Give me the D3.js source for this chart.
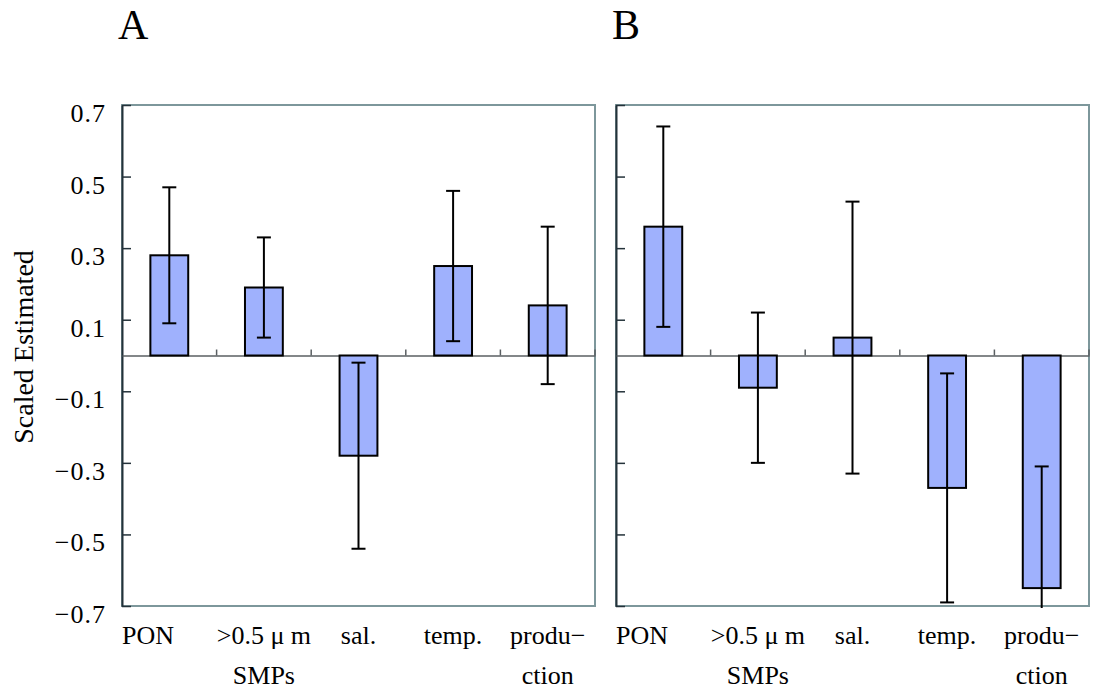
<!DOCTYPE html>
<html>
<head>
<meta charset="utf-8">
<script src="https://cdn.jsdelivr.net/npm/d3@7"></script>
<style>
  body { margin: 0; background: #fff; }
  svg { font-family: "Liberation Serif", "DejaVu Serif", serif; }
</style>
</head>
<body>
<div class="chart"></div>
<script>
// data
var categories = [["PON"], [">0.5 μ m", "SMPs"], ["sal."], ["temp."], ["produ−", "ction"]]
var panels = ["A", "B"]
var valuesA = [0.28, 0.19, -0.28, 0.25, 0.14]
var lowA = [0.09, 0.05, -0.54, 0.04, -0.08]
var highA = [0.47, 0.33, -0.02, 0.46, 0.36]
var valuesB = [0.36, -0.09, 0.05, -0.37, -0.65]
var lowB = [0.08, -0.30, -0.33, -0.69, -0.99]
var highB = [0.64, 0.12, 0.43, -0.05, -0.31]
var yTicks = [0.7, 0.5, 0.3, 0.1, -0.1, -0.3, -0.5, -0.7]
var yLabel = "Scaled Estimated"

let svg = d3.select('div.chart').append('svg')
  .attr("width", 1098).attr("height", 695)

var top_ = 105, bottom = 606
var panelX = [[122, 595], [616, 1089]]
var series = [
  {v: valuesA, lo: lowA, hi: highA},
  {v: valuesB, lo: lowB, hi: highB}
]

let y = d3.scaleLinear().domain([-0.7, 0.7]).range([bottom, top_])

series.forEach((s, p) => {
  let x = d3.scaleBand()
    .domain(d3.range(categories.length))
    .range(panelX[p])
    .paddingInner(0).paddingOuter(0)
  let g = svg.append('g')

  //frame
  g.append('rect')
    .attr('x', panelX[p][0]).attr('y', top_)
    .attr('width', panelX[p][1] - panelX[p][0])
    .attr('height', bottom - top_)
    .attr('fill', 'none')
    .attr('stroke', '#7d979b')
    .attr('stroke-width', 2)

  //y axis (ticks inward)
  let yAxis = g.append('g')
    .attr('transform', 'translate(' + panelX[p][0] + ',0)')
    .call(d3.axisRight(y).tickValues(yTicks).tickSize(9).tickSizeOuter(0).tickFormat(''))
  yAxis.select('.domain').attr('stroke', '#24323a').attr('stroke-width', 2)
  yAxis.selectAll('.tick line').attr('stroke', '#24323a').attr('stroke-width', 1.5)

  if (p == 0) {
    g.selectAll('text.ytick')
      .data(yTicks)
      .enter()
      .append('text')
      .attr('class', 'ytick')
      .attr('x', panelX[p][0] - 16)
      .attr('y', d => y(d) + 17)
      .attr('text-anchor', 'end')
      .attr('font-size', 26)
      .attr('letter-spacing', 1)
      .text(d => d < 0 ? "−" + d3.format(".1f")(-d) : d3.format(".1f")(d))
  }

  //zero line with category ticks
  let xAxis = g.append('g')
    .attr('transform', 'translate(0,' + y(0) + ')')
    .call(d3.axisTop(x).tickValues([]).tickSize(0).tickSizeOuter(0))
  xAxis.select('.domain').attr('stroke', '#5a5f62').attr('stroke-width', 1.5)
  g.selectAll('line.sep')
    .data(d3.range(1, categories.length + 1))
    .enter()
    .append('line')
    .attr('class', 'sep')
    .attr('x1', i => x.range()[0] + i * x.bandwidth())
    .attr('x2', i => x.range()[0] + i * x.bandwidth())
    .attr('y1', y(0)).attr('y2', y(0) - 6)
    .attr('stroke', '#5a5f62').attr('stroke-width', 1.5)

  //bars
  let bw = x.bandwidth() * 0.4
  g.selectAll('rect.bar')
    .data(s.v)
    .enter()
    .append('rect')
    .attr('class', 'bar')
    .attr('x', (d, i) => x(i) + (x.bandwidth() - bw) / 2)
    .attr('y', d => y(Math.max(d, 0)))
    .attr('width', bw)
    .attr('height', d => Math.abs(y(d) - y(0)))
    .attr('fill', '#9fb1fd')
    .attr('stroke', '#000')
    .attr('stroke-width', 2)

  //error bars
  let cx = i => x(i) + x.bandwidth() / 2
  g.selectAll('line.err')
    .data(s.v)
    .enter()
    .append('line')
    .attr('class', 'err')
    .attr('x1', (d, i) => cx(i)).attr('x2', (d, i) => cx(i))
    .attr('y1', (d, i) => y(s.hi[i]))
    .attr('y2', (d, i) => Math.min(y(s.lo[i]), bottom + 2))
    .attr('stroke', '#000').attr('stroke-width', 2)

  let caps = []
  s.v.forEach((d, i) => {
    if (s.hi[i] <= 0.7) caps.push([i, s.hi[i]])
    if (s.lo[i] >= -0.7) caps.push([i, s.lo[i]])
  })
  g.selectAll('line.cap')
    .data(caps)
    .enter()
    .append('line')
    .attr('class', 'cap')
    .attr('x1', d => cx(d[0]) - 7).attr('x2', d => cx(d[0]) + 7)
    .attr('y1', d => y(d[1])).attr('y2', d => y(d[1]))
    .attr('stroke', '#000').attr('stroke-width', 2)

  //category labels
  let lab = g.selectAll('text.cat')
    .data(categories)
    .enter()
    .append('text')
    .attr('class', 'cat')
    .attr('font-size', 26)
    .attr('text-anchor', (d, i) => i == 0 ? 'start' : 'middle')
  lab.selectAll('tspan')
    .data((d, i) => d.map(t => [t, i]))
    .enter()
    .append('tspan')
    .attr('x', d => d[1] == 0 ? x(0) : cx(d[1]))
    .attr('y', (d, j) => 644 + j * 40)
    .text(d => d[0])

  //panel tag
  g.append('text')
    .attr('x', panelX[p][0] - 4)
    .attr('y', 39)
    .attr('font-size', 42)
    .text(panels[p])
})

//y label
svg.append('text')
  .attr('transform', 'translate(33,347) rotate(-90)')
  .attr('text-anchor', 'middle')
  .attr('font-size', 28)
  .text(yLabel)
</script>
</body>
</html>
